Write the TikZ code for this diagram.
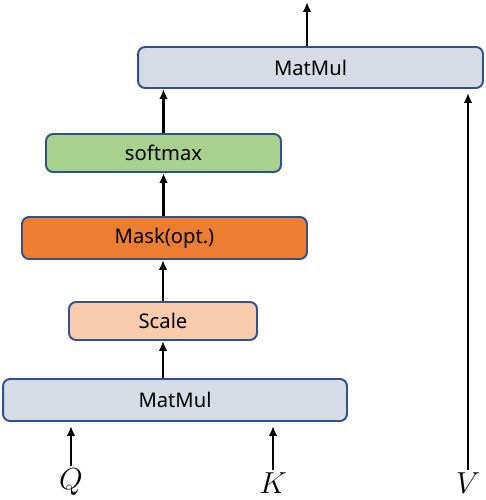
\documentclass[tikz,border=0pt]{standalone}
\usepackage{fontspec}
\setmainfont{Noto Sans}
\usepackage{amsmath}
\usepackage{tikz}
\usetikzlibrary{calc,positioning,arrows.meta}

\definecolor{bordc}{HTML}{2F528F}
\definecolor{mmc}{HTML}{D6DCE5}
\definecolor{smc}{HTML}{A9D18E}
\definecolor{mkc}{HTML}{ED7D31}
\definecolor{scc}{HTML}{F8CBAD}

\begin{document}
\begin{tikzpicture}[x=0.02cm,y=-0.02cm,
  blk/.style={draw=bordc,line width=1.1pt,rounded corners=0.14cm,inner sep=0pt,font=\fontsize{11.5}{13}\selectfont},
  arr/.style={-{Latex[length=0.2cm,width=0.17cm]},line width=1.2pt},
  var/.style={inner sep=1pt,font=\LARGE}]
  \useasboundingbox (0,0) rectangle (486,500);

  \node[blk,fill=mmc,minimum width=6.88cm,minimum height=0.84cm] (mm1) at (175,400) {MatMul};
  \node[blk,fill=scc,minimum width=3.76cm,minimum height=0.76cm] (scale) at (163,321) {Scale};
  \node[blk,fill=mkc,minimum width=5.7cm,minimum height=0.84cm] (mask) at (164.5,238) {Mask(opt.)};
  \node[blk,fill=smc,minimum width=4.7cm,minimum height=0.76cm] (soft) at (163.5,153) {softmax};
  \node[blk,fill=mmc,minimum width=6.9cm,minimum height=0.82cm] (mm2) at (310.5,67.5) {MatMul};

  \node[var] (q) at (71,482) {$Q$};
  \node[var] (k) at (273,483) {$K$};
  \node[var] (v) at (468,483) {$V$};
  \coordinate (out) at (307,2);

  \draw[arr] (q.north) ++(0,-1) -- ($(q.north |- mm1.south)+(0,4)$);
  \draw[arr] (k.north) ++(0,-1) -- ($(k.north |- mm1.south)+(0,4)$);
  \draw[arr] (v.north) ++(0,-1) -- ($(v.north |- mm2.south)+(0,4)$);
  \draw[arr] (mm1.north -| scale.south) -- (scale.south);
  \draw[arr] (scale.north) -- (scale.north |- mask.south);
  \draw[arr] (mask.north -| soft.south) -- (soft.south);
  \draw[arr] (soft.north) -- (soft.north |- mm2.south);
  \draw[arr] (mm2.north -| out) -- (out);
\end{tikzpicture}
\end{document}
